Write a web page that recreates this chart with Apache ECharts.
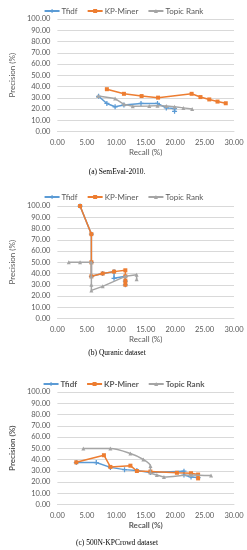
<!DOCTYPE html>
<html><head><meta charset="utf-8">
<script src="https://cdn.jsdelivr.net/npm/echarts@6/dist/echarts.min.js"></script>
<style>html,body{margin:0;padding:0;background:#fff}#c{width:247px;height:550px}</style>
</head><body><div id="c"></div>
<script>
// ---- Data (Recall %, Precision %) ----
const seriesNames = ['Tfidf', 'KP-Miner', 'Topic Rank'];
const xTicks = [0, 5, 10, 15, 20, 25, 30];
const yTicks = [0, 10, 20, 30, 40, 50, 60, 70, 80, 90, 100];
const captions = ['(a) SemEval-2010.', '(b) Quranic dataset', '(c) 500N-KPCrowd dataset'];

// (a) SemEval-2010
const semTfidf = [[7.0,31.3],[8.4,24.9],[9.8,22.0],[11.3,23.5],[14.2,24.9],[17.0,24.9],[18.5,21.0],[19.9,20.4],[19.9,18.0]];
const semKP    = [[8.4,37.6],[11.3,33.5],[14.3,31.5],[17.1,30.1],[22.8,33.5],[24.3,30.6],[25.8,28.5],[27.2,26.6],[28.6,25.1]];
const semTR    = [[6.9,31.5],[9.8,29.3],[11.3,24.2],[12.8,22.5],[15.6,22.6],[17.0,23.0],[18.5,22.7],[19.9,22.0],[21.4,21.0],[22.9,19.9]];

// (b) Quranic dataset
const qurTfidf = [[3.85,100],[5.77,75],[5.77,50],[5.77,37.5],[7.69,40],[9.62,41.67],[9.62,35.71],[11.54,37.5],[11.54,33.33],[11.54,30]];
const qurKP    = [[3.85,100],[5.77,75],[5.77,50],[5.77,37.5],[7.69,40],[9.62,41.67],[11.54,42.86],[11.54,37.5],[11.54,33.33],[11.54,30]];
const qurTR    = [[1.92,50],[3.85,50],[5.77,50],[5.77,37.5],[5.77,30],[5.77,25],[7.69,28.57],[11.54,37.5],[13.46,38.89],[13.46,35]];

// (c) 500N-KPCrowd dataset
const kpcTfidf = [[3.2,37.3],[6.6,37.3],[9.0,33.0],[11.4,31.0],[13.5,30.3],[15.8,28.4],[21.5,29.6],[21.5,26.2],[22.7,24.5],[23.9,23.9]];
const kpcKP    = [[3.2,37.5],[7.9,43.8],[9.0,33.4],[12.4,34.5],[13.5,29.8],[15.8,29.3],[20.3,28.2],[22.7,27.8],[23.9,26.6],[23.9,23.2]];
const kpcTR    = [[4.4,49.7],[9.0,49.7],[12.4,45.3],[14.6,40.0],[15.8,34.3],[15.8,28.4],[16.9,26.3],[18.1,24.5],[22.7,26.3],[26.1,25.7]];

const datasets = [
  [semTfidf, semKP, semTR],
  [qurTfidf, qurKP, qurTR],
  [kpcTfidf, kpcKP, kpcTR]
];
const smoothTR = [false, false, true];

// ---- Styling / layout ----
const colors = ['#5B9BD5', '#ED7D31', '#A5A5A5'];
const symbols = ['path://M3,0H5V8H3ZM0,3H8V5H0Z', 'rect', 'triangle'];
const symSizes = [5, 4, 4];
const gridTops = [19, 206, 392];
const gridH = 112.5;
const legendTops = [2, 188, 375];
const captionYs = [172, 353, 543];
const boldText = [false, false, true];
const font = 'Lato, "Open Sans", sans-serif';
const txt = '#595959';

const grids = [], xAxes = [], yAxes = [], legends = [], series = [], graphics = [];
for (let i = 0; i < 3; i++) {
  grids.push({left: 44, right: 13, top: gridTops[i], height: gridH});
  xAxes.push({
    type: 'value', gridIndex: i, min: xTicks[0], max: xTicks[xTicks.length-1], interval: 5,
    name: 'Recall (%)', nameLocation: 'middle', nameGap: 17,
    nameTextStyle: {color: txt, fontSize: 8, fontFamily: font, fontWeight: boldText[i] ? 'bold' : 'normal'},
    axisLine: {show: true, lineStyle: {color: '#D9D9D9', width: 1}},
    axisTick: {show: false}, splitLine: {show: false},
    axisLabel: {color: txt, fontSize: 7.5, fontFamily: font, margin: 7, formatter: v => v.toFixed(2)}
  });
  yAxes.push({
    type: 'value', gridIndex: i, min: yTicks[0], max: yTicks[yTicks.length-1], interval: 10,
    name: 'Precision (%)', nameLocation: 'middle', nameGap: 33, nameRotate: 90,
    nameTextStyle: {color: txt, fontSize: 8, fontFamily: font, fontWeight: boldText[i] ? 'bold' : 'normal'},
    axisLine: {show: false}, axisTick: {show: false},
    splitLine: {show: true, lineStyle: {color: '#D9D9D9', width: 1}},
    axisLabel: {color: txt, fontSize: 7.5, fontFamily: font, margin: 7, formatter: v => v.toFixed(2)}
  });
  legends.push({
    top: legendTops[i], left: 'center', itemWidth: 15, itemHeight: 5, itemGap: 9,
    data: seriesNames,
    textStyle: {color: txt, fontSize: 8, fontFamily: font, fontWeight: boldText[i] ? 'bold' : 'normal', padding: [0,0,0,-3]}
  });
  for (let s = 0; s < 3; s++) {
    series.push({
      name: seriesNames[s], type: 'line', xAxisIndex: i, yAxisIndex: i,
      data: datasets[i][s], smooth: (s === 2 && smoothTR[i]) ? 0.3 : false,
      symbol: symbols[s], symbolSize: symSizes[s], showSymbol: true,
      itemStyle: {color: colors[s]}, lineStyle: {color: colors[s], width: 1.5},
      animation: false, z: 2 + s
    });
  }
  graphics.push({
    type: 'text', x: 117, y: captionYs[i],
    style: {text: captions[i], fill: '#000', font: '7.5px "Liberation Serif", serif',
            textAlign: 'center', textVerticalAlign: 'middle'}
  });
}

const chart = echarts.init(document.getElementById('c'), null, {renderer: 'canvas'});
chart.setOption({
  animation: false, color: colors,
  grid: grids, xAxis: xAxes, yAxis: yAxes, legend: legends, series: series,
  graphic: graphics
});
</script></body></html>
